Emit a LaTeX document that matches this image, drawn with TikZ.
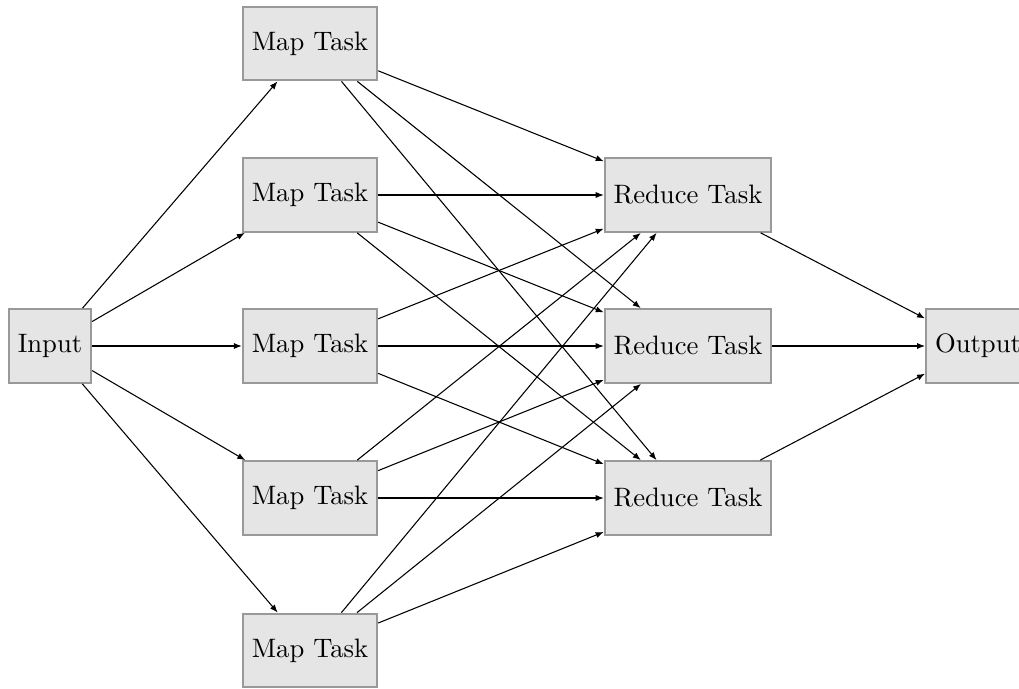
\documentclass[tikz,border=0pt]{standalone}
\usetikzlibrary{arrows.meta}
\begin{document}
\begin{tikzpicture}[x=0.375pt,y=-0.375pt,
  task/.style={draw=black!40, fill=black!10, thick, minimum height=0.97cm, inner sep=0.3333em},
  conn/.style={-{Latex[length=3pt,width=2.3pt]}, line width=0.4pt}]
\useasboundingbox (0,0) rectangle (1019,689);
\node[task] (in) at (50,346) {Input};
\node[task] (m1) at (310,43.5) {Map Task};
\node[task] (m2) at (310,195) {Map Task};
\node[task] (m3) at (310,346) {Map Task};
\node[task] (m4) at (310,498) {Map Task};
\node[task] (m5) at (310,650.5) {Map Task};
\node[task] (r1) at (688,195) {Reduce Task};
\node[task] (r2) at (688,346) {Reduce Task};
\node[task] (r3) at (688,498) {Reduce Task};
\node[task] (out) at (978,346) {Output};
\foreach \m in {m1,m2,m3,m4,m5} {
  \draw[conn] (in) -- (\m);
  \foreach \r in {r1,r2,r3} {
    \draw[conn] (\m) -- (\r);
  }
}
\foreach \r in {r1,r2,r3} {
  \draw[conn] (\r) -- (out);
}
\end{tikzpicture}
\end{document}
